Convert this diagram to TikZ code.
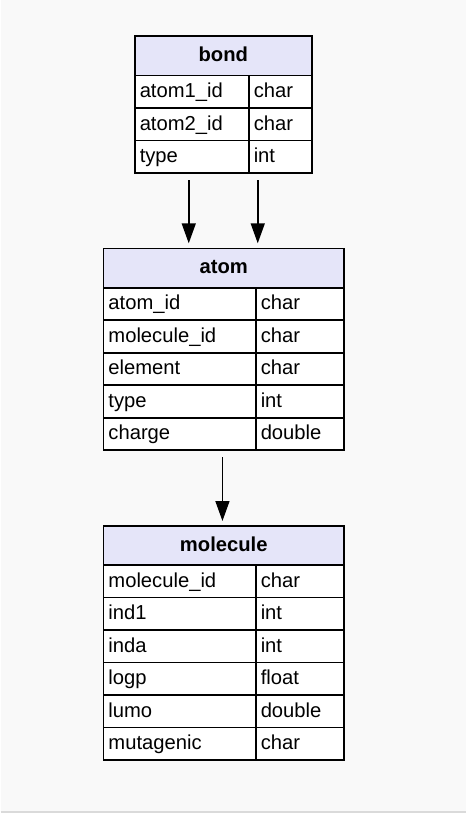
\documentclass[tikz,border=0pt]{standalone}
\usepackage{fontspec}
\setmainfont{Liberation Sans}
\usetikzlibrary{positioning,arrows.meta}
\definecolor{pagebg}{HTML}{F9F9F9}
\definecolor{hdrfill}{HTML}{E5E5F9}
\definecolor{rulegray}{HTML}{DADADA}

\tikzset{
  hdr/.style={draw, fill=hdrfill, line width=1.6pt, font=\fontsize{20.2}{21}\selectfont\bfseries,
    minimum height=39.5pt, text height=14.5pt, text depth=3pt, inner sep=0pt, outer sep=0pt, anchor=north west},
  cell/.style={draw, fill=white, line width=1.6pt, font=\fontsize{20.2}{21}\selectfont,
    minimum height=32.5pt, text height=14.5pt, text depth=3pt, inner xsep=5pt, inner ysep=0pt,
    outer sep=0pt, align=left, anchor=north west},
  fk/.style={line width=1.5pt, -{Triangle[length=20pt,width=14pt]}, shorten <=7pt, shorten >=5pt}
}

\begin{document}
\begin{tikzpicture}[x=1pt, y=-1pt]
                \fill[pagebg] (0,0) rectangle (465,813);
                \draw[rulegray, line width=1.5pt] (0,812) -- (465,812);
                % bond
                \node[hdr, minimum width=177pt] (bond) at (134,36) {bond};
                \foreach \fname/\ftype [count=\i] in {atom1\_id/char, atom2\_id/char, type/int} {
                    \node[cell, text width=104pt] (bond-n\i) at (134,{75.7+(\i-1)*32.5}) {\fname};
                    \node[cell, text width=53pt] (bond-t\i) at (248,{75.7+(\i-1)*32.5}) {\ftype};
                }
                % atom
                \node[hdr, minimum width=240.6pt] (atom) at (102.7,248.3) {atom};
                \foreach \fname/\ftype [count=\i] in {atom\_id/char, molecule\_id/char, element/char, type/int, charge/double} {
                    \node[cell, text width=142.3pt] (atom-n\i) at (102.7,{287.7+(\i-1)*32.5}) {\fname};
                    \node[cell, text width=78.3pt] (atom-t\i) at (255,{287.7+(\i-1)*32.5}) {\ftype};
                }
                % molecule
                \node[hdr, minimum width=240.6pt] (molecule) at (102.7,526) {molecule};
                \foreach \fname/\ftype [count=\i] in {molecule\_id/char, ind1/int, inda/int, logp/float, lumo/double, mutagenic/char} {
                    \node[cell, text width=142.3pt] (mol-n\i) at (102.7,{565+(\i-1)*32.5}) {\fname};
                    \node[cell, text width=78.3pt] (mol-t\i) at (255,{565+(\i-1)*32.5}) {\ftype};
                }
                % links
                \draw[fk] ([xshift=54pt]bond-n3.south west) -- ([xshift=54pt]bond-n3.south west |- atom.north);
                \draw[fk] ([xshift=9pt]bond-t3.south west) -- ([xshift=9pt]bond-t3.south west |- atom.north);
                \draw[fk] ([xshift=119pt]atom-n5.south west) -- ([xshift=119pt]atom-n5.south west |- molecule.north);
            \end{tikzpicture}
\end{document}
